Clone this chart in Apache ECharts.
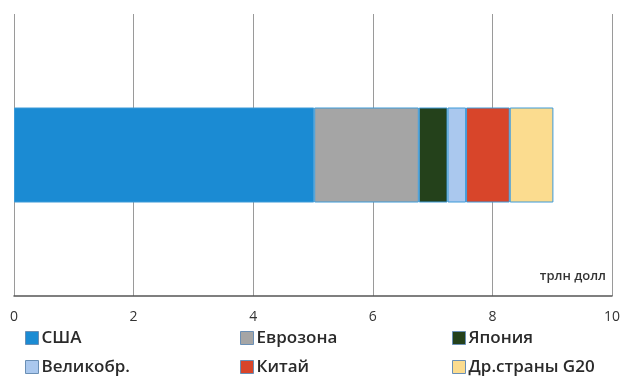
<!DOCTYPE html>
<html><head><meta charset="utf-8">
<script src="https://cdn.jsdelivr.net/npm/echarts@6/dist/echarts.min.js"></script>
<style>html,body{margin:0;padding:0;background:#fff}#c{width:623px;height:378px}</style>
</head><body><div id="c"></div>
<script>
const categories = ['2012'];
const seriesNames = ['США', 'Еврозона', 'Япония', 'Великобр.', 'Китай', 'Др.страны G20'];
const usa = [5.02];
const eurozone = [1.75];
const japan = [0.48];
const uk = [0.31];
const china = [0.73];
const otherG20 = [0.73];
const colors = ['#1b8bd3', '#a5a5a5', '#24411b', '#aac8ee', '#d8452a', '#fbdc8f'];
const unitLabel = 'трлн долл';

const values = [usa, eurozone, japan, uk, china, otherG20];
const font = '"Open Sans", "Noto Sans", sans-serif';
const chart = echarts.init(document.getElementById('c'));
const legendCommon = {
  orient: 'vertical', top: 328, height: 60, padding: 0, itemGap: 9, itemWidth: 13, itemHeight: 13, icon: 'rect',
  selectedMode: false,
  textStyle: { fontFamily: font, fontSize: 17, fontWeight: 600, lineHeight: 20, color: '#2a2a2a', padding: [0, 0, 0, -2] },
  itemStyle: { borderColor: '#6a8fb5', borderWidth: 1 }
};
chart.setOption({
  animation: false,
  title: { text: unitLabel, right: 17, top: 270, padding: 0, textStyle: { fontFamily: font, fontSize: 13, fontWeight: 600, color: '#333' } },
  legend: [
    Object.assign({ left: 25, data: [seriesNames[0], seriesNames[3]] }, legendCommon),
    Object.assign({ left: 240, data: [seriesNames[1], seriesNames[4]] }, legendCommon),
    Object.assign({ left: 452, data: [seriesNames[2], seriesNames[5]] }, legendCommon)
  ],
  grid: { left: 14, right: 11, top: 14, bottom: 82, containLabel: false },
  xAxis: {
    type: 'value', min: 0, max: 10, interval: 2,
    axisLine: { show: true, lineStyle: { color: '#555', width: 1.5 } },
    axisTick: { show: false },
    splitLine: { show: true, lineStyle: { color: '#9a9a9a', width: 1 } },
    axisLabel: { fontFamily: font, fontSize: 14, color: '#333', margin: 14 }
  },
  yAxis: { type: 'category', data: categories, show: false },
  series: seriesNames.map((n, i) => ({
    name: n, type: 'bar', stack: 'total', data: values[i], barWidth: 95,
    itemStyle: { color: colors[i], borderColor: '#3d9ad8', borderWidth: 1 }
  }))
});
</script></body></html>
